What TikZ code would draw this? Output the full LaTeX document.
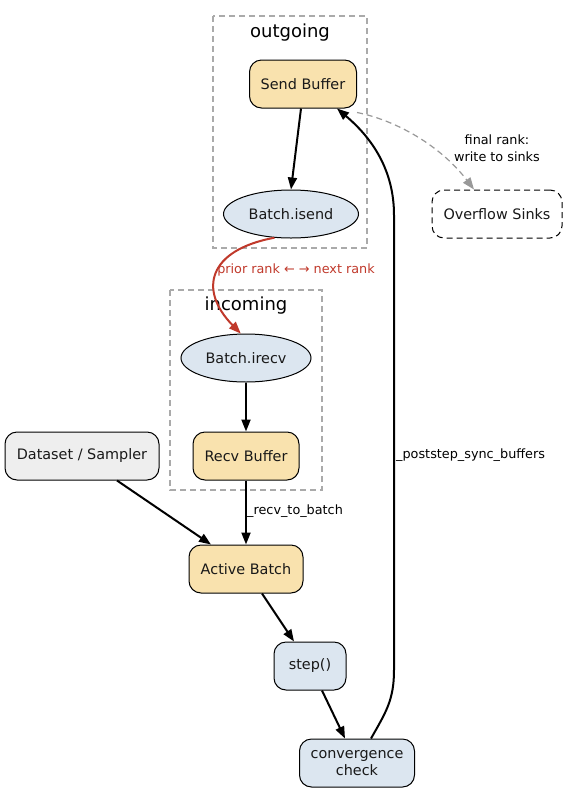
\documentclass[tikz,border=0pt]{standalone}
\usepackage{fontspec}
\setmainfont{DejaVu Sans}
\usetikzlibrary{shapes.geometric,arrows.meta,calc}
\definecolor{buf}{HTML}{F9E2AE}
\definecolor{lblue}{HTML}{DCE6F0}
\definecolor{lgray}{HTML}{EEEEEE}
\definecolor{redline}{HTML}{C0392B}
\definecolor{clgray}{HTML}{AAAAAA}
\definecolor{edgegray}{HTML}{999999}
\tikzset{
  base/.style={draw=black, line width=1pt, font=\fontsize{14.4}{16}\selectfont, text=black!90, inner sep=0pt},
  rbox/.style={base, rectangle, rounded corners=12pt, minimum height=48pt},
  ell/.style={base, ellipse, fill=lblue, minimum height=48pt},
  cluster/.style={draw=clgray, line width=1.2pt, dash pattern=on 6pt off 4pt},
  clabel/.style={font=\fontsize{18}{20}\selectfont, text=black},
  elabel/.style={font=\fontsize{12.8}{15}\selectfont, text=black, inner sep=0pt},
  flow/.style={line width=2pt, -{Triangle[length=12pt,width=9pt]}},
}
\begin{document}
\begin{tikzpicture}[x=1pt,y=-1pt]
\useasboundingbox (0,0) rectangle (568,793);
% clusters
\draw[cluster] (213,16) rectangle (367,248);
\node[clabel] (lout) at (290,33) {outgoing};
\draw[cluster] (170,290) rectangle (322,490);
\node[clabel] (lin) at (246,306) {incoming};
% nodes
\node[rbox, fill=buf, minimum width=107pt] (send) at (303,84) {Send Buffer};
\node[ell, minimum width=135pt] (isend) at (291,214) {Batch.isend};
\node[rbox, fill=white, dashed, dash pattern=on 6pt off 4pt, minimum width=130pt] (sinks) at (497,214) {Overflow Sinks};
\node[ell, minimum width=130pt] (irecv) at (246,358) {Batch.irecv};
\node[rbox, fill=buf, minimum width=106pt] (recv) at (246,456) {Recv Buffer};
\node[rbox, fill=lgray, minimum width=154pt] (data) at (82,456) {Dataset / Sampler};
\node[rbox, fill=buf, minimum width=114pt] (active) at (246,569) {Active Batch};
\node[rbox, fill=lblue, minimum width=72pt] (step) at (310,666) {step()};
\node[rbox, fill=lblue, minimum width=115pt, align=center, font=\fontsize{14.4}{17}\selectfont] (conv) at (357,763) {convergence\\check};
% edges
\draw[flow] ([xshift=-2pt]send.south) -- (isend.north);
\draw[flow, draw=redline, -{Triangle[length=12pt,width=9pt,fill=redline]}]
  (isend.235) .. controls (208,250) and (198,290) .. (irecv.102);
\node[elabel, text=redline] (lred) at (296,270) {prior rank ← → next rank};
\draw[line width=1.2pt, draw=edgegray, dash pattern=on 6pt off 4pt, -{Triangle[length=12pt,width=9pt,fill=edgegray]}]
  ([yshift=-4pt]send.south east) .. controls (395,120) and (440,145) .. ([xshift=-23pt]sinks.north);
\node[elabel, align=center, font=\fontsize{12.8}{17}\selectfont] (lfinal) at (497,148) {final rank:\\write to sinks};
\draw[flow] (irecv.south) -- (recv.north);
\draw[flow] (recv.south) -- (active.north);
\node[elabel, anchor=west] (lrecv) at (247,511) {\_recv\_to\_batch};
\draw[flow] ([xshift=35pt]data.south) -- ([xshift=-35pt]active.north);
\draw[flow] ([xshift=16pt]active.south) -- ([xshift=-16pt]step.north);
\draw[flow] ([xshift=12pt]step.south) -- ([xshift=-12pt]conv.north);
\draw[flow] ([xshift=14pt]conv.north) .. controls (386,712) and (394,700) .. (394,670)
  -- (394,215) .. controls (394,170) and (372,138) .. ([xshift=34pt]send.south);
\node[elabel, anchor=west] (lsync) at (396,455) {\_poststep\_sync\_buffers};
\end{tikzpicture}
\end{document}
